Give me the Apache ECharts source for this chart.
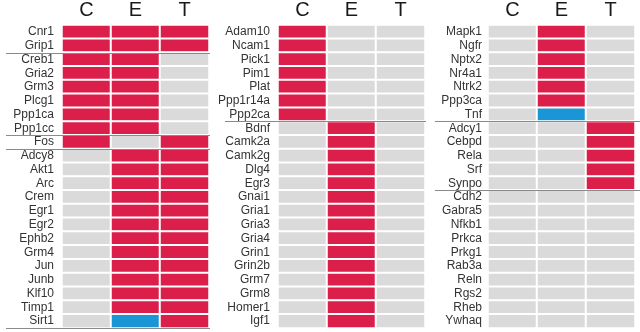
<!DOCTYPE html>
<html>
<head>
<meta charset="utf-8">
<script src="https://cdn.jsdelivr.net/npm/echarts@6/dist/echarts.min.js"></script>
<style>html,body{margin:0;padding:0;background:#fff}#c{width:640px;height:332px}</style>
</head>
<body>
<div id="c"></div>
<script>
// ---- data ----
const conditions = ['C', 'E', 'T'];

const genes1 = ['Cnr1','Grip1','Creb1','Gria2','Grm3','Plcg1','Ppp1ca','Ppp1cc','Fos','Adcy8','Akt1','Arc','Crem','Egr1','Egr2','Ephb2','Grm4','Jun','Junb','Klf10','Timp1','Sirt1'];
const c1 = [1,1,1,1,1,1,1,1,1,0,0,0,0,0,0,0,0,0,0,0,0,0];
const e1 = [1,1,1,1,1,1,1,1,0,1,1,1,1,1,1,1,1,1,1,1,1,-1];
const t1 = [1,1,0,0,0,0,0,0,1,1,1,1,1,1,1,1,1,1,1,1,1,1];
const breaks1 = [1,7,8,21];

const genes2 = ['Adam10','Ncam1','Pick1','Pim1','Plat','Ppp1r14a','Ppp2ca','Bdnf','Camk2a','Camk2g','Dlg4','Egr3','Gnai1','Gria1','Gria3','Gria4','Grin1','Grin2b','Grm7','Grm8','Homer1','Igf1'];
const c2 = [1,1,1,1,1,1,1,0,0,0,0,0,0,0,0,0,0,0,0,0,0,0];
const e2 = [0,0,0,0,0,0,0,1,1,1,1,1,1,1,1,1,1,1,1,1,1,1];
const t2 = [0,0,0,0,0,0,0,0,0,0,0,0,0,0,0,0,0,0,0,0,0,0];
const breaks2 = [6];

const genes3 = ['Mapk1','Ngfr','Nptx2','Nr4a1','Ntrk2','Ppp3ca','Tnf','Adcy1','Cebpd','Rela','Srf','Synpo','Cdh2','Gabra5','Nfkb1','Prkca','Prkg1','Rab3a','Reln','Rgs2','Rheb','Ywhaq'];
const c3 = [0,0,0,0,0,0,0,0,0,0,0,0,0,0,0,0,0,0,0,0,0,0];
const e3 = [1,1,1,1,1,1,-1,0,0,0,0,0,0,0,0,0,0,0,0,0,0,0];
const t3 = [0,0,0,0,0,0,0,1,1,1,1,1,0,0,0,0,0,0,0,0,0,0];
const breaks3 = [6,11];

// ---- layout ----
const FONT = "'Liberation Sans', Arial, Helvetica, sans-serif";
const panels = [
  {genes: genes1, cols: [c1, e1, t1], breaks: breaks1, left: 62, lineL: 56, lineR: 1, labelMargin: 8},
  {genes: genes2, cols: [c2, e2, t2], breaks: breaks2, left: 278, lineL: 53, lineR: 1, labelMargin: 8},
  {genes: genes3, cols: [c3, e3, t3], breaks: breaks3, left: 488, lineL: 53, lineR: 5, labelMargin: 6}
];

const grid = [], xAxis = [], yAxis = [], series = [];
const heatIdx = [];
panels.forEach((p, i) => {
  grid.push({left: p.left, top: 25, width: 147, height: 303, containLabel: false});
  xAxis.push({
    type: 'category', gridIndex: i, position: 'top', data: conditions,
    axisLine: {show: false}, axisTick: {show: false}, splitLine: {show: false},
    axisLabel: {fontSize: 20, color: '#1a1a1a', margin: 5, fontFamily: FONT}
  });
  yAxis.push({
    type: 'category', gridIndex: i, inverse: true, data: p.genes,
    axisLine: {show: false}, axisTick: {show: false}, splitLine: {show: false},
    axisLabel: {fontSize: 12, color: '#333', margin: p.labelMargin, fontFamily: FONT, interval: 0}
  });
  const data = [];
  p.cols.forEach((col, ci) => col.forEach((v, ri) => data.push([ci, ri, v])));
  heatIdx.push(series.length);
  series.push({
    type: 'heatmap', xAxisIndex: i, yAxisIndex: i, data: data,
    itemStyle: {borderColor: '#fff', borderWidth: 2},
    emphasis: {disabled: true}, silent: true
  });
  series.push({
    type: 'custom', xAxisIndex: i, yAxisIndex: i, silent: true, clip: false, z: 5,
    data: p.breaks.map(b => [0, b]),
    renderItem: (params, api) => {
      const idx = api.value(1);
      const pt = api.coord([0, idx]);
      const h = api.size([0, 1])[1];
      const y = Math.round(pt[1] + h / 2) + 0.5;
      const cs = params.coordSys;
      return {
        type: 'line',
        shape: {x1: cs.x - p.lineL, y1: y, x2: cs.x + cs.width + p.lineR, y2: y},
        style: {stroke: '#8a8a8a', lineWidth: 1}
      };
    }
  });
});

const chart = echarts.init(document.getElementById('c'), null, {renderer: 'canvas'});
chart.setOption({
  animation: false,
  backgroundColor: '#fff',
  grid, xAxis, yAxis,
  visualMap: {
    type: 'piecewise', show: false, dimension: 2, seriesIndex: heatIdx,
    pieces: [
      {value: -1, color: '#1a96d6'},
      {value: 0, color: '#dadada'},
      {value: 1, color: '#dc1e4b'}
    ]
  },
  series
});
</script>
</body>
</html>
